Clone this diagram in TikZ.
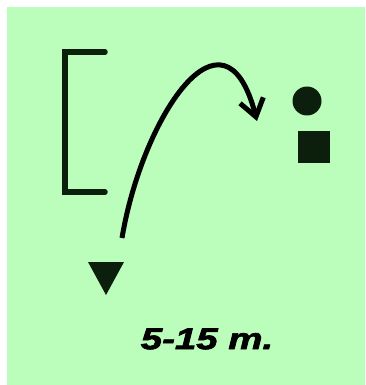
\documentclass[tikz,border=0pt]{standalone}
\usepackage{fontspec}
\setmainfont{Liberation Sans}
\usetikzlibrary{arrows.meta}
\definecolor{bg}{RGB}{187,253,186}
\definecolor{ink}{RGB}{12,30,12}
\begin{document}
\begin{tikzpicture}[x=1pt,y=-1pt,
  solidmark/.style={fill=ink,draw=none,inner sep=0pt},
  bracketline/.style={draw=ink,line width=5.5pt},
  flight/.style={draw=black,line width=5pt,-{Straight Barb[length=17pt,width=24pt,line width=5pt]}}]
\useasboundingbox (0,0) rectangle (365,385);
\fill[white] (0,0) rectangle (365,385);
\fill[bg] (7,7) rectangle (365,385);
% bracket
\coordinate (bt) at (105,52);
\coordinate (bb) at (105,192);
\draw[bracketline,line cap=round] (bt) -- (65,52) -- (65,192) -- (bb);
% circle and square
\node[solidmark,circle,minimum size=29pt] (ball) at (307,101) {};
\node[solidmark,rectangle,minimum size=32pt] (box) at (314,147) {};
% triangle
\fill[ink] (88,262) -- (124,262) -- (106,295) -- cycle;
% arc
\coordinate (start) at (122,238);
\coordinate (tip) at (257,121);
\draw[flight] (start) .. controls (142,118) and (224,-7) .. (tip);
% label
\node[font=\bfseries\itshape\fontsize{30}{30}\selectfont\addfontfeature{FakeBold=2},inner sep=0pt,anchor=center,xscale=1.28] (lbl) at (207,339) {5-15 m.};
\end{tikzpicture}
\end{document}
